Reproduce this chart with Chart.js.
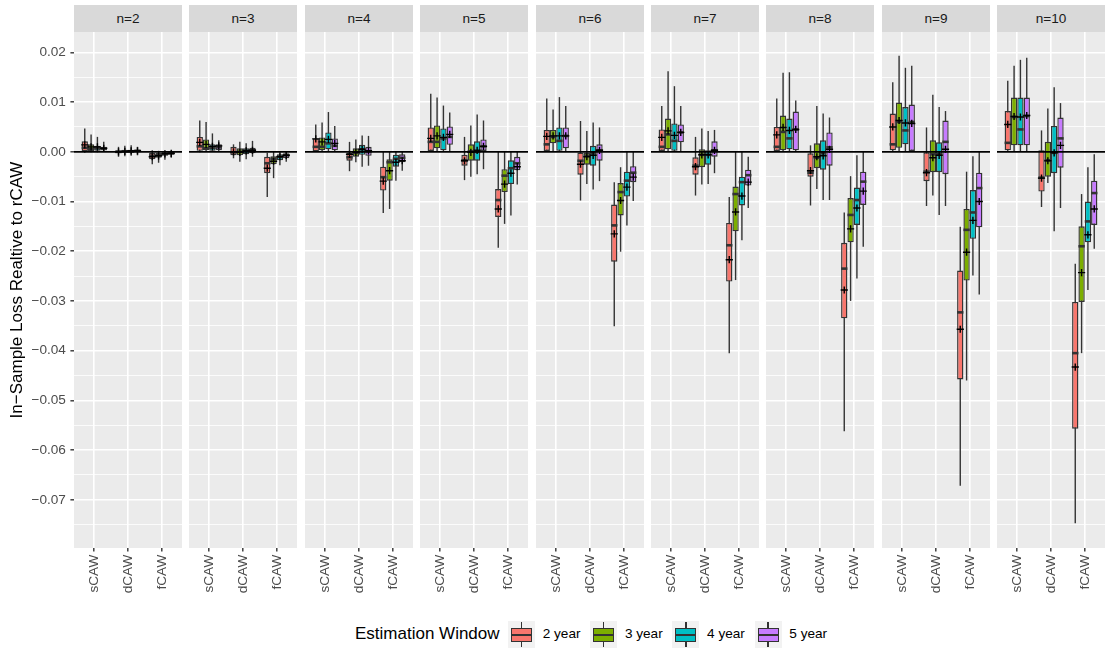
<!DOCTYPE html>
<html>
<head>
<meta charset="utf-8">
<script src="https://cdn.jsdelivr.net/npm/chart.js@4.4.1/dist/chart.umd.min.js"></script>
<style>
  html, body { margin: 0; padding: 0; background: #fff; }
  #figure { position: relative; width: 1107px; height: 651px; overflow: hidden; font-family: 'Liberation Sans', Arial, sans-serif; }
  .strip { position: absolute; top: 5px; height: 27px; line-height: 27px; background: #D9D9D9; color: #1A1A1A; font-size: 13.6px; text-align: center; }
  .panel { position: absolute; top: 32px; }
  .legend-title { position: absolute; left: 355px; top: 624px; font-size: 17px; color: #000; white-space: nowrap; }
  .key { position: absolute; top: 621px; width: 27px; height: 27px; background: #F2F2F2; }
  .key .whisker { position: absolute; left: 12.9px; top: 1px; width: 1.3px; height: 25px; background: #333; }
  .key .box { position: absolute; left: 3px; top: 6.5px; width: 21px; height: 14.5px; box-sizing: border-box; border: 1.3px solid #333; }
  .key .median { position: absolute; left: 3px; top: 12.8px; width: 21px; height: 2px; background: #333; }
  .key-label { position: absolute; top: 626px; font-size: 13.6px; color: #000; white-space: nowrap; }
</style>
</head>
<body>
<div id="figure"></div>
<script>
// ===== Data =====
const FACETS = ['n=2', 'n=3', 'n=4', 'n=5', 'n=6', 'n=7', 'n=8', 'n=9', 'n=10'];
const METHODS = ['sCAW', 'dCAW', 'fCAW'];
const WINDOWS = ['2 year', '3 year', '4 year', '5 year'];
const WINDOW_COLORS = ['#F8766D', '#7CAE00', '#00BFC4', '#C77CFF'];

const Y_MAJOR_TICKS = [-0.07, -0.06, -0.05, -0.04, -0.03, -0.02, -0.01, 0, 0.01, 0.02];
const Y_MINOR_TICKS = [-0.075, -0.065, -0.055, -0.045, -0.035, -0.025, -0.015, -0.005, 0.005, 0.015];

// each row is one facet: [sCAW], [dCAW], [fCAW], each with 2, 3, 4, 5 year
const WHISKER_LOW = [
  [[-0.0002, -0.0001, -0.0001, 0.0000], [-0.0010, -0.0009, -0.0008, -0.0007], [-0.0025, -0.0022, -0.0016, -0.0012]],
  [[-0.0001, 0.0000, 0.0000, 0.0000], [-0.0013, -0.0020, -0.0015, -0.0010], [-0.0091, -0.0053, -0.0027, -0.0020]],
  [[0.0000, 0.0000, 0.0000, 0.0000], [-0.0039, -0.0021, -0.0030, -0.0028], [-0.0123, -0.0115, -0.0058, -0.0038]],
  [[0.0000, 0.0000, 0.0000, 0.0000], [-0.0057, -0.0050, -0.0045, -0.0035], [-0.0193, -0.0145, -0.0128, -0.0066]],
  [[0.0000, 0.0000, 0.0000, 0.0000], [-0.0098, -0.0065, -0.0076, -0.0059], [-0.0351, -0.0201, -0.0148, -0.0099]],
  [[0.0000, 0.0000, 0.0000, 0.0000], [-0.0088, -0.0066, -0.0065, -0.0043], [-0.0405, -0.0258, -0.0178, -0.0113]],
  [[0.0000, 0.0000, 0.0000, 0.0000], [-0.0108, -0.0075, -0.0097, -0.0097], [-0.0562, -0.0300, -0.0255, -0.0191]],
  [[0.0000, 0.0000, 0.0000, 0.0000], [-0.0109, -0.0088, -0.0127, -0.0109], [-0.0672, -0.0460, -0.0249, -0.0287]],
  [[0.0000, 0.0000, 0.0000, 0.0000], [-0.0111, -0.0063, -0.0160, -0.0113], [-0.0747, -0.0405, -0.0278, -0.0195]],
];

const Q1 = [
  [[0.0001, 0.0001, 0.0002, 0.0003], [-0.0003, -0.0002, -0.0002, -0.0001], [-0.0015, -0.0012, -0.0008, -0.0006]],
  [[0.0002, 0.0003, 0.0002, 0.0003], [-0.0007, -0.0007, -0.0005, -0.0003], [-0.0043, -0.0025, -0.0017, -0.0013]],
  [[0.0001, 0.0003, 0.0005, 0.0003], [-0.0018, -0.0010, -0.0006, -0.0008], [-0.0078, -0.0058, -0.0030, -0.0021]],
  [[0.0000, 0.0007, 0.0003, 0.0014], [-0.0028, -0.0018, -0.0018, 0.0000], [-0.0131, -0.0081, -0.0065, -0.0037]],
  [[0.0000, 0.0017, 0.0002, 0.0007], [-0.0046, -0.0026, -0.0028, -0.0018], [-0.0221, -0.0128, -0.0090, -0.0061]],
  [[0.0000, 0.0005, 0.0002, 0.0019], [-0.0046, -0.0031, -0.0026, -0.0010], [-0.0261, -0.0160, -0.0108, -0.0068]],
  [[0.0000, 0.0003, 0.0005, 0.0003], [-0.0050, -0.0033, -0.0036, -0.0028], [-0.0335, -0.0182, -0.0147, -0.0107]],
  [[0.0003, 0.0008, 0.0015, 0.0000], [-0.0059, -0.0041, -0.0041, -0.0045], [-0.0458, -0.0259, -0.0175, -0.0152]],
  [[0.0003, 0.0013, 0.0013, 0.0013], [-0.0080, -0.0050, -0.0043, -0.0032], [-0.0557, -0.0302, -0.0182, -0.0147]],
];

const MEDIAN = [
  [[0.0008, 0.0006, 0.0007, 0.0006], [0.0000, 0.0001, 0.0001, 0.0002], [-0.0008, -0.0007, -0.0004, -0.0003]],
  [[0.0011, 0.0007, 0.0008, 0.0009], [-0.0001, 0.0000, 0.0002, 0.0003], [-0.0023, -0.0014, -0.0010, -0.0007]],
  [[0.0010, 0.0010, 0.0017, 0.0012], [-0.0011, -0.0002, 0.0005, 0.0001], [-0.0051, -0.0021, -0.0014, -0.0012]],
  [[0.0020, 0.0020, 0.0027, 0.0030], [-0.0017, 0.0001, 0.0000, 0.0011], [-0.0097, -0.0048, -0.0033, -0.0023]],
  [[0.0015, 0.0030, 0.0022, 0.0032], [-0.0018, -0.0008, -0.0003, 0.0003], [-0.0148, -0.0081, -0.0058, -0.0042]],
  [[0.0010, 0.0035, 0.0022, 0.0039], [-0.0028, -0.0006, -0.0006, 0.0003], [-0.0188, -0.0085, -0.0061, -0.0047]],
  [[0.0010, 0.0040, 0.0027, 0.0045], [-0.0042, -0.0012, -0.0003, 0.0009], [-0.0235, -0.0127, -0.0097, -0.0060]],
  [[0.0015, 0.0060, 0.0043, 0.0060], [-0.0040, -0.0005, -0.0005, 0.0020], [-0.0323, -0.0157, -0.0122, -0.0073]],
  [[0.0018, 0.0070, 0.0045, 0.0072], [-0.0052, -0.0017, -0.0002, 0.0027], [-0.0405, -0.0190, -0.0140, -0.0083]],
];

const Q3 = [
  [[0.0021, 0.0015, 0.0012, 0.0010], [0.0003, 0.0004, 0.0004, 0.0004], [-0.0002, -0.0002, -0.0001, 0.0000]],
  [[0.0030, 0.0025, 0.0015, 0.0015], [0.0010, 0.0007, 0.0007, 0.0008], [-0.0010, -0.0009, -0.0005, -0.0003]],
  [[0.0027, 0.0029, 0.0039, 0.0027], [0.0000, 0.0007, 0.0014, 0.0010], [-0.0030, -0.0015, -0.0006, -0.0005]],
  [[0.0049, 0.0053, 0.0047, 0.0051], [-0.0006, 0.0015, 0.0021, 0.0025], [-0.0075, -0.0035, -0.0017, -0.0010]],
  [[0.0044, 0.0044, 0.0049, 0.0049], [0.0000, 0.0000, 0.0012, 0.0015], [-0.0106, -0.0063, -0.0040, -0.0029]],
  [[0.0045, 0.0067, 0.0057, 0.0055], [-0.0011, 0.0005, 0.0003, 0.0021], [-0.0143, -0.0070, -0.0050, -0.0036]],
  [[0.0050, 0.0073, 0.0067, 0.0081], [-0.0003, 0.0017, 0.0023, 0.0039], [-0.0183, -0.0093, -0.0072, -0.0040]],
  [[0.0077, 0.0099, 0.0090, 0.0095], [-0.0001, 0.0023, 0.0019, 0.0063], [-0.0239, -0.0115, -0.0077, -0.0042]],
  [[0.0082, 0.0109, 0.0109, 0.0109], [0.0003, 0.0020, 0.0052, 0.0069], [-0.0302, -0.0150, -0.0100, -0.0058]],
];

const WHISKER_HIGH = [
  [[0.0047, 0.0035, 0.0030, 0.0020], [0.0010, 0.0012, 0.0013, 0.0010], [0.0003, 0.0002, 0.0002, 0.0002]],
  [[0.0063, 0.0060, 0.0037, 0.0023], [0.0015, 0.0020, 0.0017, 0.0022], [-0.0002, 0.0000, 0.0000, 0.0000]],
  [[0.0055, 0.0059, 0.0080, 0.0052], [0.0020, 0.0025, 0.0033, 0.0032], [0.0000, 0.0000, 0.0000, 0.0000]],
  [[0.0117, 0.0109, 0.0093, 0.0079], [0.0030, 0.0053, 0.0075, 0.0063], [0.0000, 0.0000, 0.0000, 0.0000]],
  [[0.0107, 0.0085, 0.0110, 0.0092], [0.0062, 0.0042, 0.0059, 0.0049], [-0.0061, -0.0031, 0.0000, 0.0000]],
  [[0.0092, 0.0162, 0.0132, 0.0092], [0.0030, 0.0047, 0.0042, 0.0044], [-0.0091, 0.0000, 0.0000, -0.0010]],
  [[0.0107, 0.0159, 0.0160, 0.0103], [0.0013, 0.0092, 0.0077, 0.0069], [-0.0122, -0.0049, -0.0007, 0.0000]],
  [[0.0140, 0.0193, 0.0169, 0.0173], [0.0049, 0.0115, 0.0090, 0.0082], [-0.0151, -0.0040, -0.0009, 0.0000]],
  [[0.0143, 0.0173, 0.0185, 0.0189], [0.0043, 0.0087, 0.0130, 0.0098], [-0.0225, -0.0085, -0.0031, -0.0005]],
];

const MEAN = [
  [[0.0014, 0.0010, 0.0010, 0.0007], [0.0000, 0.0001, 0.0002, 0.0002], [-0.0010, -0.0008, -0.0004, -0.0003]],
  [[0.0019, 0.0015, 0.0011, 0.0012], [0.0000, -0.0001, 0.0002, 0.0003], [-0.0033, -0.0019, -0.0010, -0.0007]],
  [[0.0026, 0.0020, 0.0025, 0.0017], [-0.0005, -0.0001, 0.0005, 0.0002], [-0.0059, -0.0038, -0.0021, -0.0018]],
  [[0.0027, 0.0032, 0.0029, 0.0035], [-0.0018, -0.0001, 0.0003, 0.0011], [-0.0115, -0.0065, -0.0043, -0.0030]],
  [[0.0031, 0.0032, 0.0032, 0.0032], [-0.0025, -0.0010, -0.0007, 0.0003], [-0.0165, -0.0098, -0.0071, -0.0051]],
  [[0.0029, 0.0042, 0.0033, 0.0039], [-0.0030, -0.0006, -0.0006, 0.0003], [-0.0217, -0.0121, -0.0089, -0.0061]],
  [[0.0034, 0.0049, 0.0043, 0.0045], [-0.0038, -0.0010, -0.0008, 0.0005], [-0.0278, -0.0155, -0.0113, -0.0079]],
  [[0.0050, 0.0063, 0.0058, 0.0057], [-0.0042, -0.0012, -0.0007, 0.0005], [-0.0357, -0.0202, -0.0138, -0.0100]],
  [[0.0055, 0.0071, 0.0070, 0.0073], [-0.0053, -0.0018, -0.0002, 0.0013], [-0.0433, -0.0243, -0.0167, -0.0115]],
];

// ===== Layout =====
const Y_MIN = -0.0797;
const Y_MAX = 0.0241;
const AXIS_WIDTH = 74;
const PANEL_WIDTH = 108;
const PANEL_STEP = 115.4;
const CANVAS_HEIGHT = 578;
const X_AXIS_HEIGHT = 62;
const INK = '#333333';

Chart.defaults.font.family = "'Liberation Sans', Arial, sans-serif";

const isMajorTick = (value) => Math.abs(value * 100 - Math.round(value * 100)) < 1e-6;
const formatTick = (value) => (value < 0 ? '\u2212' : '') + Math.abs(value).toFixed(2);

// labels must not push the panel edges around
function clearPadding(scale) {
  scale.paddingTop = 0;
  scale.paddingBottom = 0;
  scale.paddingLeft = 0;
  scale.paddingRight = 0;
}

// ===== Boxplot drawing on top of floating bars =====
const boxplotPlugin = {
  id: 'boxplot',
  beforeDraw(chart) {
    const { ctx, chartArea } = chart;
    ctx.save();
    ctx.fillStyle = '#EBEBEB';
    ctx.fillRect(chartArea.left, chartArea.top, chartArea.right - chartArea.left, chartArea.bottom - chartArea.top);
    ctx.restore();
  },
  beforeDatasetsDraw(chart, args, opts) {
    const f = opts.facet;
    const yScale = chart.scales.y;
    const ctx = chart.ctx;
    ctx.save();
    ctx.strokeStyle = INK;
    ctx.lineWidth = 1.4;
    chart.data.datasets.forEach((dataset, s) => {
      chart.getDatasetMeta(s).data.forEach((bar, c) => {
        ctx.beginPath();
        ctx.moveTo(bar.x, yScale.getPixelForValue(WHISKER_HIGH[f][c][s]));
        ctx.lineTo(bar.x, yScale.getPixelForValue(WHISKER_LOW[f][c][s]));
        ctx.stroke();
      });
    });
    ctx.restore();
  },
  afterDatasetsDraw(chart, args, opts) {
    const f = opts.facet;
    const yScale = chart.scales.y;
    const { ctx, chartArea } = chart;
    ctx.save();

    // medians
    ctx.strokeStyle = INK;
    ctx.lineWidth = 2.6;
    chart.data.datasets.forEach((dataset, s) => {
      chart.getDatasetMeta(s).data.forEach((bar, c) => {
        const y = yScale.getPixelForValue(MEDIAN[f][c][s]);
        ctx.beginPath();
        ctx.moveTo(bar.x - bar.width / 2, y);
        ctx.lineTo(bar.x + bar.width / 2, y);
        ctx.stroke();
      });
    });

    // reference line at zero
    const zero = yScale.getPixelForValue(0);
    ctx.strokeStyle = '#000000';
    ctx.lineWidth = 1.7;
    ctx.beginPath();
    ctx.moveTo(chartArea.left, zero);
    ctx.lineTo(chartArea.right, zero);
    ctx.stroke();

    // means
    ctx.lineWidth = 1.4;
    chart.data.datasets.forEach((dataset, s) => {
      chart.getDatasetMeta(s).data.forEach((bar, c) => {
        const y = yScale.getPixelForValue(MEAN[f][c][s]);
        ctx.beginPath();
        ctx.moveTo(bar.x - 3.6, y);
        ctx.lineTo(bar.x + 3.6, y);
        ctx.moveTo(bar.x, y - 3.6);
        ctx.lineTo(bar.x, y + 3.6);
        ctx.stroke();
      });
    });
    ctx.restore();
  },
};

// ===== Facets =====
function buildFacet(f) {
  const figure = document.getElementById('figure');
  const panelLeft = AXIS_WIDTH + Math.round(PANEL_STEP * f);
  const withAxis = f === 0;

  const strip = document.createElement('div');
  strip.className = 'strip';
  strip.style.left = panelLeft + 'px';
  strip.style.width = PANEL_WIDTH + 'px';
  strip.textContent = FACETS[f];
  figure.appendChild(strip);

  const canvas = document.createElement('canvas');
  canvas.className = 'panel';
  canvas.width = withAxis ? AXIS_WIDTH + PANEL_WIDTH : PANEL_WIDTH;
  canvas.height = CANVAS_HEIGHT;
  canvas.style.left = (withAxis ? 0 : panelLeft) + 'px';
  figure.appendChild(canvas);

  const datasets = WINDOWS.map((label, s) => ({
    label,
    data: METHODS.map((method, c) => ({ x: c + 1, y: [Q1[f][c][s], Q3[f][c][s]] })),
    backgroundColor: WINDOW_COLORS[s],
    borderColor: INK,
    borderWidth: 1.4,
    borderSkipped: false,
    categoryPercentage: 0.75,
    barPercentage: 1,
  }));

  new Chart(canvas, {
    type: 'bar',
    data: { datasets },
    options: {
      responsive: false,
      animation: false,
      events: [],
      layout: { padding: 0, autoPadding: false },
      plugins: {
        legend: { display: false },
        tooltip: { enabled: false },
        boxplot: { facet: f },
      },
      scales: {
        x: {
          type: 'linear',
          min: 0.4,
          max: 3.6,
          offset: false,
          bounds: 'data',
          afterBuildTicks: (scale) => { scale.ticks = METHODS.map((method, i) => ({ value: i + 1 })); },
          afterFit: (scale) => { scale.height = X_AXIS_HEIGHT; clearPadding(scale); },
          ticks: {
            autoSkip: false,
            minRotation: 90,
            maxRotation: 90,
            padding: 3,
            color: '#4D4D4D',
            font: { size: 13.6 },
            callback: (value) => METHODS[Math.round(value) - 1],
          },
          grid: { offset: false, color: '#FFFFFF', lineWidth: 1.6, drawTicks: true, tickLength: 3.6, tickColor: INK, tickWidth: 1.4 },
          border: { display: false },
        },
        y: {
          type: 'linear',
          min: Y_MIN,
          max: Y_MAX,
          bounds: 'data',
          afterBuildTicks: (scale) => {
            scale.ticks = Y_MAJOR_TICKS.concat(Y_MINOR_TICKS).sort((a, b) => a - b).map((value) => ({ value }));
          },
          afterFit: (scale) => { scale.width = withAxis ? AXIS_WIDTH : 0; clearPadding(scale); },
          ticks: {
            display: withAxis,
            autoSkip: false,
            padding: 4.5,
            color: '#4D4D4D',
            font: { size: 13.6 },
            callback: (value) => (isMajorTick(value) ? formatTick(value) : ''),
          },
          grid: {
            color: '#FFFFFF',
            lineWidth: (ctx) => (isMajorTick(ctx.tick.value) ? 1.6 : 0.8),
            drawTicks: withAxis,
            tickLength: 3.6,
            tickWidth: 1.4,
            tickColor: (ctx) => (isMajorTick(ctx.tick.value) ? INK : 'rgba(0,0,0,0)'),
          },
          border: { display: false },
          title: {
            display: withAxis,
            text: 'In\u2212Sample Loss Realtive to rCAW',
            color: '#000000',
            font: { size: 17 },
            padding: { top: 7, bottom: 0 },
          },
        },
      },
    },
    plugins: [boxplotPlugin],
  });
}

// ===== Legend =====
function buildLegend() {
  const figure = document.getElementById('figure');
  const title = document.createElement('div');
  title.className = 'legend-title';
  title.textContent = 'Estimation Window';
  figure.appendChild(title);

  WINDOWS.forEach((label, s) => {
    const keyLeft = 508 + s * 82.2;
    const key = document.createElement('div');
    key.className = 'key';
    key.style.left = keyLeft + 'px';
    key.innerHTML = '<div class="whisker"></div><div class="box"></div><div class="median"></div>';
    key.querySelector('.box').style.background = WINDOW_COLORS[s];
    figure.appendChild(key);

    const text = document.createElement('div');
    text.className = 'key-label';
    text.style.left = (keyLeft + 34.7) + 'px';
    text.textContent = label;
    figure.appendChild(text);
  });
}

FACETS.forEach((facet, f) => buildFacet(f));
buildLegend();
</script>
</body>
</html>
